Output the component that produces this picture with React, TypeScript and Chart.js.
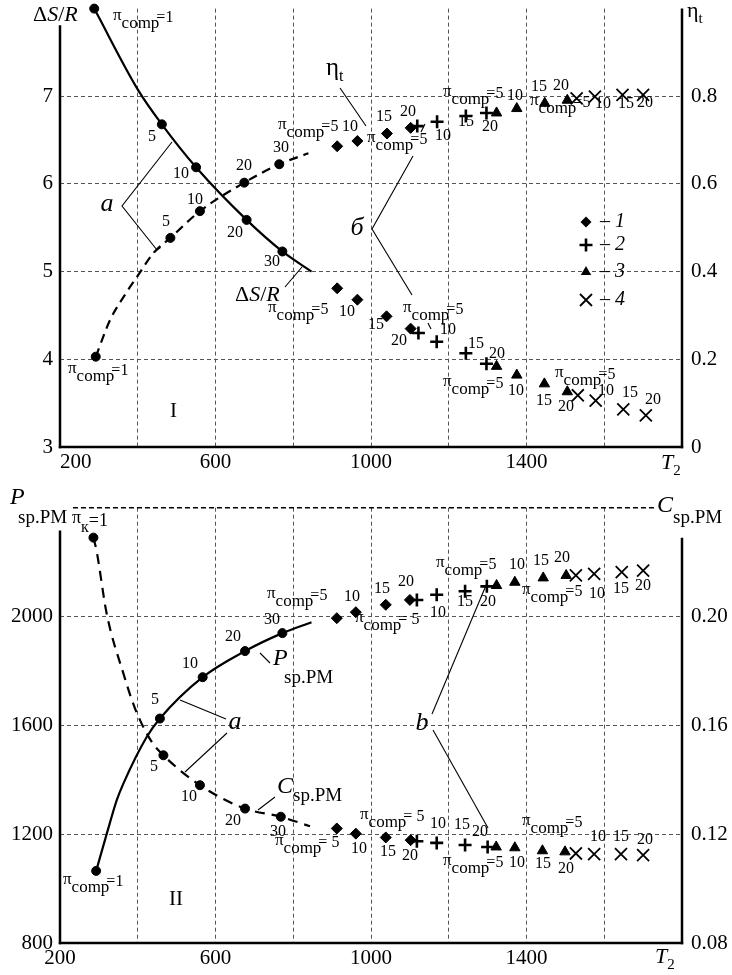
import React, { useEffect, useRef } from 'react';
import { Chart, registerables } from 'chart.js';

Chart.register(...registerables);

const FONT = "'Liberation Serif', 'Times New Roman', Times, serif";

// ---------------- shared x axis (T2) ----------------
const T2_MIN = 200;
const T2_MAX = 1800;
const T2_STEP = 200;
const T2_LABELS = [200, 600, 1000, 1400];

// ---------------- Panel I : ΔS/R (left) and η_t (right) ----------------
const DS_MIN = 3;
const DS_MAX = 8;
const DS_LABELS = [3, 4, 5, 6, 7];
const ETA_MIN = 0;
const ETA_MAX = 1;
const ETA_LABELS = [0, 0.2, 0.4, 0.6, 0.8];

// curve a, ΔS/R (solid), markers at π_comp = 1, 5, 10, 20, 30
const aDsMarkT2 = [288, 462, 550, 680, 772];
const aDsMarkVal = [8.0, 6.68, 6.19, 5.59, 5.23];
const aDsLineT2 = [288, 401, 462, 550, 680, 772, 847];
const aDsLineVal = [8.0, 7.07, 6.68, 6.19, 5.59, 5.23, 5.0];

// curve a, η_t (dashed), markers at π_comp = 1, 5, 10, 20, 30
const aEtaMarkT2 = [292, 484, 560, 674, 764];
const aEtaMarkVal = [0.206, 0.477, 0.538, 0.603, 0.645];
const aEtaLineT2 = [292, 329, 372, 401, 440, 484, 560, 674, 764, 839];
const aEtaLineVal = [0.206, 0.29, 0.354, 0.392, 0.442, 0.477, 0.538, 0.603, 0.645, 0.67];

// series 1..4 (π_comp = 5, 10, 15, 20) — η_t
const s1EtaT2 = [913, 965, 1041, 1102];
const s1Eta = [0.686, 0.698, 0.715, 0.728];
const s2EtaT2 = [1119, 1170, 1244, 1297];
const s2Eta = [0.732, 0.742, 0.755, 0.762];
const s3EtaT2 = [1323, 1375, 1447, 1505];
const s3Eta = [0.762, 0.772, 0.784, 0.791];
const s4EtaT2 = [1529, 1576, 1647, 1700];
const s4Eta = [0.795, 0.799, 0.803, 0.803];

// series 1..4 — ΔS/R
const s1DsT2 = [913, 965, 1040, 1102];
const s1Ds = [4.81, 4.68, 4.49, 4.35];
const s2DsT2 = [1122, 1169, 1244, 1297];
const s2Ds = [4.3, 4.2, 4.07, 3.95];
const s3DsT2 = [1323, 1375, 1446, 1505];
const s3Ds = [3.92, 3.82, 3.72, 3.63];
const s4DsT2 = [1532, 1578, 1649, 1707];
const s4Ds = [3.59, 3.53, 3.43, 3.36];

// ---------------- Panel II : P_sp.PM (left) and C_sp.PM (right) ----------------
const P_MIN = 800;
const P_MAX = 2400;
const P_LABELS = [800, 1200, 1600, 2000];
const C_MIN = 0.08;
const C_MAX = 0.24;
const C_LABELS = [0.08, 0.12, 0.16, 0.2];

// curve a, P_sp.PM (solid)
const aPMarkT2 = [293, 457, 567, 676, 772];
const aPMarkVal = [1065, 1625, 1777, 1873, 1939];
const aPLineT2 = [293, 320, 346, 363, 423, 457, 567, 676, 772, 847];
const aPLineVal = [1065, 1200, 1325, 1386, 1557, 1625, 1777, 1873, 1939, 1979];

// curve a, C_sp.PM (dashed)
const aCMarkT2 = [286, 466, 560, 676, 768];
const aCMarkVal = [0.229, 0.149, 0.138, 0.1294, 0.1264];
const aCLineT2 = [286, 294, 320, 363, 393, 436, 466, 560, 676, 768, 843];
const aCLineVal = [0.229, 0.2242, 0.2011, 0.1791, 0.1662, 0.1539, 0.149, 0.138, 0.1294, 0.1264, 0.1229];

// series 1..4 — P_sp.PM
const s1PT2 = [912, 961, 1038, 1100];
const s1P = [1994, 2016, 2043, 2061];
const s2PT2 = [1118, 1169, 1242, 1298];
const s2P = [2061, 2080, 2093, 2111];
const s3PT2 = [1323, 1370, 1443, 1502];
const s3P = [2114, 2126, 2142, 2151];
const s4PT2 = [1527, 1574, 1645, 1700];
const s4P = [2151, 2157, 2163, 2169];

// series 1..4 — C_sp.PM
const s1CT2 = [912, 961, 1038, 1102];
const s1C = [0.1221, 0.1202, 0.1188, 0.1178];
const s2CT2 = [1118, 1169, 1242, 1300];
const s2C = [0.1174, 0.1168, 0.116, 0.1153];
const s3CT2 = [1322, 1370, 1441, 1499];
const s3C = [0.1153, 0.115, 0.1139, 0.1135];
const s4CT2 = [1527, 1574, 1643, 1700];
const s4C = [0.1129, 0.1127, 0.1127, 0.1123];

// ---------------- styles ----------------
const ST = {
  circle: { ps: 'circle', r: 4.5, bw: 1 },
  diamond: { ps: 'rectRot', r: 5.5, bw: 1 },
  plus: { ps: 'cross', r: 6.5, bw: 2.6 },
  tri: { ps: 'triangle', r: 6, bw: 1 },
  x: { ps: 'crossRot', r: 8.5, bw: 1.8 },
};

const pts = (xs: number[], ys: number[]) => xs.map((x, i) => ({ x, y: ys[i] }));

const curve = (xs: number[], ys: number[], yAxisID: string, dash: number[]) => ({
  data: pts(xs, ys),
  yAxisID,
  showLine: true,
  pointRadius: 0,
  pointHoverRadius: 0,
  borderColor: '#000',
  borderWidth: 2.2,
  borderDash: dash,
  cubicInterpolationMode: 'monotone',
  fill: false,
  clip: false,
});

const marks = (xs: number[], ys: number[], yAxisID: string, st: any) => ({
  data: pts(xs, ys),
  yAxisID,
  showLine: false,
  pointStyle: st.ps,
  pointRadius: st.r,
  pointHoverRadius: st.r,
  pointBorderWidth: st.bw,
  borderWidth: st.bw,
  pointBackgroundColor: '#000',
  pointBorderColor: '#000',
  backgroundColor: '#000',
  borderColor: '#000',
  clip: false,
});

// ---------------- drawing helpers ----------------
type Part = { t: string; s: number; i?: boolean; dx?: number; dy?: number };

function rich(ctx: CanvasRenderingContext2D, x: number, y: number, parts: Part[]) {
  ctx.textAlign = 'left';
  ctx.textBaseline = 'middle';
  let cx = x;
  for (const p of parts) {
    ctx.font = `${p.i ? 'italic ' : ''}${p.s}px ${FONT}`;
    cx += p.dx || 0;
    ctx.fillText(p.t, cx, y + (p.dy || 0));
    cx += ctx.measureText(p.t).width;
  }
}

function num(ctx: CanvasRenderingContext2D, t: string, x: number, y: number, size = 16, italic = false) {
  ctx.font = `${italic ? 'italic ' : ''}${size}px ${FONT}`;
  ctx.textAlign = 'center';
  ctx.textBaseline = 'middle';
  ctx.fillText(t, x, y);
}

function piComp(ctx: CanvasRenderingContext2D, x: number, y: number, v: string) {
  rich(ctx, x, y, [
    { t: 'π', s: 17, dy: -2 },
    { t: 'comp', s: 17, dy: 5.5 },
    { t: '=', s: 16, dx: -3 },
    { t: v, s: 16 },
  ]);
}

function line(ctx: CanvasRenderingContext2D, seg: number[][], w = 1.1) {
  ctx.beginPath();
  ctx.lineWidth = w;
  ctx.setLineDash([]);
  ctx.moveTo(seg[0][0], seg[0][1]);
  for (let i = 1; i < seg.length; i++) ctx.lineTo(seg[i][0], seg[i][1]);
  ctx.stroke();
}

function marker(ctx: CanvasRenderingContext2D, kind: string, x: number, y: number) {
  ctx.beginPath();
  ctx.setLineDash([]);
  if (kind === 'diamond') {
    ctx.moveTo(x, y - 5.5); ctx.lineTo(x + 5.5, y); ctx.lineTo(x, y + 5.5); ctx.lineTo(x - 5.5, y);
    ctx.closePath(); ctx.fill();
  } else if (kind === 'plus') {
    ctx.lineWidth = 2.6;
    ctx.moveTo(x - 6.5, y); ctx.lineTo(x + 6.5, y); ctx.moveTo(x, y - 6.5); ctx.lineTo(x, y + 6.5);
    ctx.stroke();
  } else if (kind === 'tri') {
    ctx.moveTo(x, y - 6); ctx.lineTo(x + 5.2, y + 3); ctx.lineTo(x - 5.2, y + 3);
    ctx.closePath(); ctx.fill();
  } else {
    ctx.lineWidth = 1.8;
    ctx.moveTo(x - 6, y - 6); ctx.lineTo(x + 6, y + 6); ctx.moveTo(x + 6, y - 6); ctx.lineTo(x - 6, y + 6);
    ctx.stroke();
  }
}

// ---------------- annotations (page pixel positions) ----------------
const TOP_NUMS: [string, number, number][] = [
  ['5', 152, 137], ['10', 181, 174], ['20', 235, 233], ['30', 272, 262],
  ['5', 166, 222], ['10', 195, 200], ['20', 244, 166], ['30', 281, 148],
  ['10', 350, 127], ['15', 384, 117], ['20', 408, 112],
  ['10', 443, 136], ['15', 466, 122], ['20', 490, 127],
  ['10', 515, 96], ['15', 539, 87], ['20', 561, 86],
  ['10', 603, 104], ['15', 626, 104], ['20', 645, 103],
  ['10', 347, 312], ['15', 376, 325], ['20', 399, 341],
  ['10', 448, 330], ['15', 476, 344], ['20', 497, 354],
  ['10', 516, 391], ['15', 544, 401], ['20', 566, 407],
  ['10', 606, 391], ['15', 630, 393], ['20', 653, 400],
];
const TOP_PI: [number, number, string][] = [
  [113, 18, '1'], [278, 127, '5'], [367, 140, '5'], [443, 94, '5'], [530, 103, '5'],
  [268, 310, '5'], [403, 310, '5'], [443, 384, '5'], [555, 375, '5'], [68, 371, '1'],
];
const TOP_LINES: number[][][] = [
  [[172, 142], [122, 206], [157, 250]],
  [[153.5, 252.5], [160.5, 247.5]],
  [[340, 88], [366, 126]],
  [[413, 156], [372, 229], [412, 295]],
  [[285, 287], [302, 267]],
  [[421, 132], [425, 124]],
  [[428, 323], [431, 329]],
];
const LEGEND: [string, string, number][] = [
  ['diamond', '1', 222], ['plus', '2', 245], ['tri', '3', 272], ['x', '4', 300],
];

const BOT_NUMS: [string, number, number][] = [
  ['5', 155, 700], ['10', 190, 664], ['20', 233, 637], ['30', 272, 620],
  ['5', 154, 767], ['10', 189, 797], ['20', 233, 821], ['30', 278, 832],
  ['10', 352, 597], ['15', 382, 589], ['20', 406, 582],
  ['10', 438, 613], ['15', 465, 602], ['20', 488, 602],
  ['10', 517, 565], ['15', 541, 561], ['20', 562, 558],
  ['10', 597, 594], ['15', 621, 589], ['20', 643, 586],
  ['10', 359, 849], ['15', 388, 852], ['20', 410, 856],
  ['10', 438, 824], ['15', 462, 825], ['20', 480, 832],
  ['10', 517, 863], ['15', 543, 864], ['20', 566, 869],
  ['10', 598, 837], ['15', 621, 837], ['20', 645, 840],
];
const BOT_PI: [number, number, string][] = [
  [267, 596, '5'], [355, 620, ' 5'], [436, 565, '5'], [522, 592, '5'],
  [275, 843, ' 5'], [360, 817, ' 5'], [443, 863, '5'], [522, 823, '5'], [63, 882, '1'],
];
const BOT_LINES: number[][][] = [
  [[226, 719], [180, 700]],
  [[227, 733], [185, 772]],
  [[260, 653], [270, 663]],
  [[258, 810], [275, 797]],
  [[487, 583], [432, 714]],
  [[433, 730], [488, 828]],
];

const near = (list: number[], v: number) => list.some((l) => Math.abs(l - v) < 1e-6);

function makePlugin(panel: 'top' | 'bot') {
  return {
    id: 'annot' + panel,
    afterDraw(chart: any) {
      const ctx: CanvasRenderingContext2D = chart.ctx;
      const { left, right, top, bottom } = chart.chartArea;
      const ys = chart.scales.y;
      ctx.save();
      ctx.strokeStyle = '#000';
      ctx.fillStyle = '#000';
      ctx.lineCap = 'butt';
      // axis lines
      const leftStart = panel === 'top' ? ys.getPixelForValue(7.81) : ys.getPixelForValue(2316);
      const rightStart = panel === 'top' ? top : ys.getPixelForValue(2290);
      line(ctx, [[left, leftStart], [left, bottom + 1.2]], 2.5);
      line(ctx, [[right, rightStart], [right, bottom + 1.2]], 2.5);
      line(ctx, [[left - 1.2, bottom], [right + 1.2, bottom]], 2.5);
      if (panel === 'bot') {
        const yt = ys.getPixelForValue(P_MAX);
        ctx.beginPath();
        ctx.lineWidth = 1.5;
        ctx.setLineDash([5, 3]);
        ctx.moveTo(73, yt);
        ctx.lineTo(655, yt);
        ctx.stroke();
        ctx.setLineDash([]);
      }
      // page coordinates below
      const off = panel === 'top' ? 0 : 485;
      ctx.translate(0, -off);
      if (panel === 'top') {
        rich(ctx, 33, 15, [{ t: 'Δ', s: 22 }, { t: 'S', s: 22, i: true }, { t: '/', s: 22 }, { t: 'R', s: 22, i: true }]);
        rich(ctx, 235, 295, [{ t: 'Δ', s: 22 }, { t: 'S', s: 22, i: true }, { t: '/', s: 22 }, { t: 'R', s: 22, i: true }]);
        rich(ctx, 687, 11, [{ t: 'η', s: 22 }, { t: 't', s: 15, dy: 8 }]);
        rich(ctx, 326, 68, [{ t: 'η', s: 25 }, { t: 't', s: 16, dy: 9 }]);
        rich(ctx, 661, 463, [{ t: 'T', s: 22, i: true }, { t: '2', s: 15, dy: 8 }]);
        num(ctx, 'a', 107, 204, 26, true);
        num(ctx, 'I', 173.5, 411.5, 21);
        num(ctx, 'б', 357, 228, 26, true);
        for (const [t, x, y] of TOP_NUMS) num(ctx, t, x, y);
        for (const [x, y, v] of TOP_PI) piComp(ctx, x, y, v);
        for (const seg of TOP_LINES) line(ctx, seg);
        for (const [k, d, y] of LEGEND) {
          marker(ctx, k, 586, y);
          rich(ctx, 600, y, [{ t: '–', s: 20 }, { t: ' ' + d, s: 20, i: true }]);
        }
      } else {
        rich(ctx, 10, 498, [{ t: 'P', s: 24, i: true }]);
        rich(ctx, 18, 518, [{ t: 'sp.PM', s: 19 }]);
        rich(ctx, 72, 518, [{ t: 'π', s: 18 }, { t: 'к', s: 16, dy: 10 }, { t: '=1', s: 18, dy: 3 }]);
        rich(ctx, 657, 506, [{ t: 'C', s: 24, i: true }, { t: 'sp.PM', s: 19, dy: 12 }]);
        rich(ctx, 273, 659, [{ t: 'P', s: 24, i: true }]);
        rich(ctx, 284, 678, [{ t: 'sp.PM', s: 19 }]);
        rich(ctx, 277, 787, [{ t: 'C', s: 24, i: true }, { t: 'sp.PM', s: 19, dy: 9 }]);
        rich(ctx, 655, 957, [{ t: 'T', s: 22, i: true }, { t: '2', s: 15, dy: 8 }]);
        num(ctx, 'a', 235, 722, 26, true);
        num(ctx, 'b', 422, 723, 26, true);
        num(ctx, 'II', 176, 899, 21);
        for (const [t, x, y] of BOT_NUMS) num(ctx, t, x, y);
        for (const [x, y, v] of BOT_PI) piComp(ctx, x, y, v);
        for (const seg of BOT_LINES) line(ctx, seg);
      }
      ctx.restore();
    },
  };
}

const gridColor = (skip: number[]) => (c: any) =>
  c.tick && skip.some((s) => Math.abs(s - c.tick.value) < 1e-6) ? 'rgba(0,0,0,0)' : '#555';

const noPadV = (w: number) => (s: any) => {
  s.width = w;
  s.paddingTop = 0;
  s.paddingBottom = 0;
};
const noPadH = (h: number) => (s: any) => {
  s.height = h;
  s.paddingLeft = 0;
  s.paddingRight = 0;
};

function xScale(align: string, padding: number, height: number) {
  return {
    type: 'linear',
    position: 'bottom',
    min: T2_MIN,
    max: T2_MAX,
    ticks: {
      stepSize: T2_STEP,
      autoSkip: false,
      maxRotation: 0,
      align,
      padding,
      color: '#000',
      font: { family: FONT, size: 21 },
      callback: (v: number) => (near(T2_LABELS, v) ? String(v) : ''),
    },
    grid: { drawTicks: false, color: gridColor([T2_MIN, T2_MAX]), lineWidth: 1 },
    border: { display: false, dash: [4, 3] },
    afterFit: noPadH(height),
  };
}

function yScale(min: number, max: number, step: number, labels: number[], fmt: (v: number) => string) {
  return {
    type: 'linear',
    position: 'left',
    min,
    max,
    ticks: {
      stepSize: step,
      padding: 7,
      color: '#000',
      font: { family: FONT, size: 21 },
      callback: (v: number) => (near(labels, v) ? fmt(v) : ''),
    },
    grid: { drawTicks: false, color: gridColor([min, max]), lineWidth: 1 },
    border: { display: false, dash: [4, 3] },
    afterFit: noPadV(60),
  };
}

function y2Scale(min: number, max: number, step: number, labels: number[], fmt: (v: number) => string) {
  return {
    type: 'linear',
    position: 'right',
    min,
    max,
    ticks: {
      stepSize: step,
      padding: 9,
      color: '#000',
      font: { family: FONT, size: 21 },
      callback: (v: number) => (near(labels, v) ? fmt(v) : ''),
    },
    grid: { drawTicks: false, drawOnChartArea: false },
    border: { display: false },
    afterFit: noPadV(50),
  };
}

function baseOptions(padTop: number) {
  return {
    animation: false,
    responsive: false,
    maintainAspectRatio: false,
    devicePixelRatio: 1,
    events: [],
    layout: { padding: { top: padTop, left: 0, right: 0, bottom: 0 }, autoPadding: false },
    plugins: { legend: { display: false }, tooltip: { enabled: false } },
  };
}

function buildTop() {
  return {
    type: 'scatter',
    data: {
      datasets: [
        curve(aDsLineT2, aDsLineVal, 'y', []),
        marks(aDsMarkT2, aDsMarkVal, 'y', ST.circle),
        curve(aEtaLineT2, aEtaLineVal, 'y2', [9, 6]),
        marks(aEtaMarkT2, aEtaMarkVal, 'y2', ST.circle),
        marks(s1EtaT2, s1Eta, 'y2', ST.diamond),
        marks(s2EtaT2, s2Eta, 'y2', ST.plus),
        marks(s3EtaT2, s3Eta, 'y2', ST.tri),
        marks(s4EtaT2, s4Eta, 'y2', ST.x),
        marks(s1DsT2, s1Ds, 'y', ST.diamond),
        marks(s2DsT2, s2Ds, 'y', ST.plus),
        marks(s3DsT2, s3Ds, 'y', ST.tri),
        marks(s4DsT2, s4Ds, 'y', ST.x),
      ],
    },
    options: {
      ...baseOptions(8.6),
      scales: {
        x: xScale('inner', 3, 38),
        y: yScale(DS_MIN, DS_MAX, 1, DS_LABELS, (v) => String(v)),
        y2: y2Scale(ETA_MIN, ETA_MAX, 0.2, ETA_LABELS, (v) => (v === 0 ? '0' : v.toFixed(1))),
      },
    },
    plugins: [makePlugin('top')],
  };
}

function buildBot() {
  return {
    type: 'scatter',
    data: {
      datasets: [
        curve(aPLineT2, aPLineVal, 'y', []),
        marks(aPMarkT2, aPMarkVal, 'y', ST.circle),
        curve(aCLineT2, aCLineVal, 'y2', [10, 7]),
        marks(aCMarkT2, aCMarkVal, 'y2', ST.circle),
        marks(s1PT2, s1P, 'y', ST.diamond),
        marks(s2PT2, s2P, 'y', ST.plus),
        marks(s3PT2, s3P, 'y', ST.tri),
        marks(s4PT2, s4P, 'y', ST.x),
        marks(s1CT2, s1C, 'y2', ST.diamond),
        marks(s2CT2, s2C, 'y2', ST.plus),
        marks(s3CT2, s3C, 'y2', ST.tri),
        marks(s4CT2, s4C, 'y2', ST.x),
      ],
    },
    options: {
      ...baseOptions(22.7),
      scales: {
        x: xScale('center', 3, 32),
        y: yScale(P_MIN, P_MAX, 400, P_LABELS, (v) => String(v)),
        y2: y2Scale(C_MIN, C_MAX, 0.04, C_LABELS, (v) => v.toFixed(2)),
      },
    },
    plugins: [makePlugin('bot')],
  };
}

export default function App() {
  const topRef = useRef<HTMLCanvasElement>(null);
  const botRef = useRef<HTMLCanvasElement>(null);
  useEffect(() => {
    const c1 = new Chart(topRef.current as HTMLCanvasElement, buildTop() as any);
    const c2 = new Chart(botRef.current as HTMLCanvasElement, buildBot() as any);
    return () => {
      c1.destroy();
      c2.destroy();
    };
  }, []);
  return (
    <div style={{ position: 'absolute', left: 0, top: 0, width: 732, height: 975, background: '#fff' }}>
      <canvas ref={topRef} width={732} height={485} style={{ position: 'absolute', left: 0, top: 0, width: 732, height: 485 }} />
      <canvas ref={botRef} width={732} height={490} style={{ position: 'absolute', left: 0, top: 485, width: 732, height: 490 }} />
    </div>
  );
}
